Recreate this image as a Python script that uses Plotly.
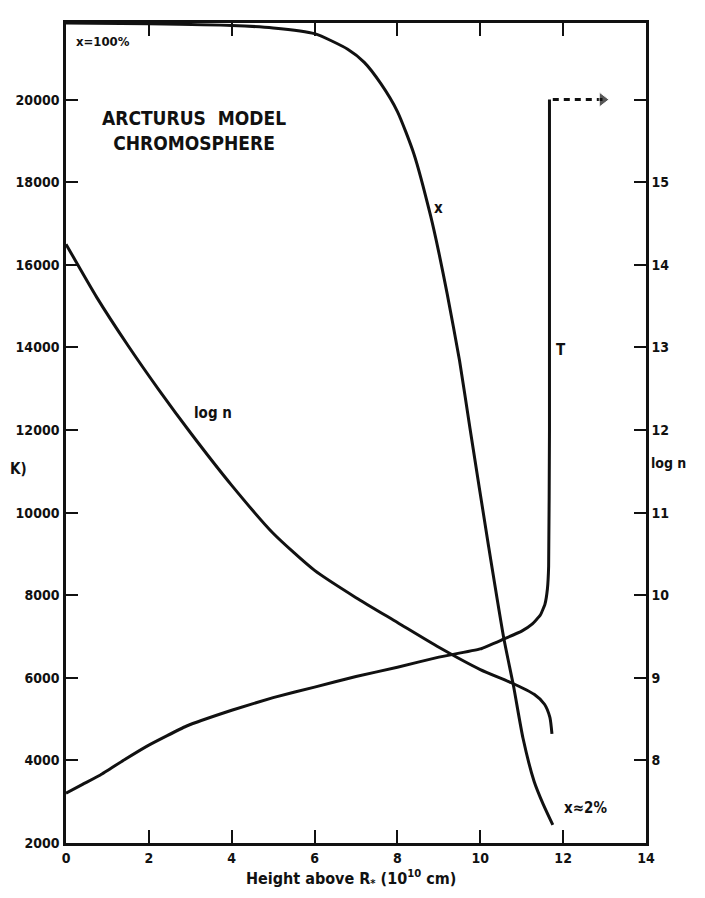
import plotly.graph_objects as go

# ---------------- data ----------------
# Height above R* (1e10 cm)
height_T = [0.0, 0.4, 0.83, 1.4, 2.0, 2.9, 4.0, 5.0, 6.0, 7.0, 8.0, 9.0, 10.0,
            10.57, 11.0, 11.25, 11.45, 11.56, 11.62, 11.65, 11.67, 11.67]
temp_K = [3205, 3420, 3647, 4010, 4370, 4827, 5213, 5520, 5775, 6030, 6257, 6500, 6699,
          6940, 7130, 7300, 7520, 7780, 8150, 8700, 12000, 20000]

height_logn = [0.0, 0.75, 1.5, 2.25, 3.0, 4.0, 5.0, 6.0, 7.0, 8.0, 9.0, 10.0,
               10.75, 11.3, 11.55, 11.68, 11.73]
log_n = [14.25, 13.6, 13.02, 12.48, 11.97, 11.33, 10.75, 10.3, 9.97, 9.67, 9.37, 9.10,
         8.94, 8.80, 8.68, 8.52, 8.32]

height_x = [0.0, 2.0, 4.0, 5.0, 6.0, 6.8, 7.2, 7.6, 8.0, 8.4, 8.8, 9.0, 9.2, 9.5, 9.75,
            10.2, 10.57, 10.8, 11.03, 11.3, 11.52, 11.75]
ion_pct = [100.0, 99.9, 99.7, 99.4, 98.7, 96.8, 95.2, 92.6, 89.2, 84.0, 76.5, 72.0, 67.0,
           58.8, 50.6, 36.2, 24.9, 19.2, 12.8, 7.5, 4.7, 2.2]

arrow_height = [11.75, 12.95]
arrow_T = [20000, 20000]

x_ticks = [0, 2, 4, 6, 8, 10, 12, 14]
T_ticks = [2000, 4000, 6000, 8000, 10000, 12000, 14000, 16000, 18000, 20000]
T_labels = [str(v) for v in T_ticks]
logn_ticks = [8, 9, 10, 11, 12, 13, 14, 15, 16]
logn_labels = ["8", "9", "10", "11", "12", "13", "14", "15", " "]

FONT = "DejaVu Sans Condensed, Liberation Sans Narrow, Liberation Sans, Arial"
BLACK = "#111111"

fig = go.Figure()
fig.add_trace(go.Scatter(x=height_T, y=temp_K, mode="lines",
                         line=dict(color=BLACK, width=3, shape="spline", smoothing=0.35),
                         yaxis="y", showlegend=False))
fig.add_trace(go.Scatter(x=height_logn, y=log_n, mode="lines",
                         line=dict(color=BLACK, width=3, shape="spline", smoothing=0.6),
                         yaxis="y2", showlegend=False))
fig.add_trace(go.Scatter(x=height_x, y=ion_pct, mode="lines",
                         line=dict(color=BLACK, width=3, shape="spline", smoothing=0.6),
                         yaxis="y3", showlegend=False))
fig.add_trace(go.Scatter(x=arrow_height, y=arrow_T, mode="lines+markers",
                         line=dict(color=BLACK, width=3, dash="6px,5px"),
                         marker=dict(symbol=["circle", "triangle-right"], size=[0, 13],
                                     color=BLACK),
                         yaxis="y", showlegend=False))

tickfont = dict(family=FONT, size=14, color=BLACK, weight="bold")

fig.update_layout(
    width=705, height=898,
    margin=dict(l=58, r=67, t=15, b=63, autoexpand=False),
    paper_bgcolor="white", plot_bgcolor="white",
    xaxis=dict(range=[0, 14], tickvals=x_ticks, ticks="inside", ticklen=13, tickwidth=2,
               tickcolor=BLACK, showline=True, linewidth=2.5, linecolor=BLACK,
               mirror="ticks", showgrid=False, zeroline=False, tickfont=tickfont,
               automargin=False),
    yaxis=dict(range=[2000, 21855], tickvals=T_ticks, ticktext=T_labels, ticks="inside",
               ticklen=12, tickwidth=2, tickcolor=BLACK, showline=True, linewidth=2.5,
               linecolor=BLACK, showgrid=False, zeroline=False, tickfont=tickfont,
               ticklabelstandoff=1, automargin=False),
    yaxis2=dict(range=[7, 16.9275], overlaying="y", side="right", tickvals=logn_ticks,
                ticktext=logn_labels, ticks="inside", ticklen=12, tickwidth=2,
                tickcolor=BLACK, showline=True, linewidth=2.5, linecolor=BLACK,
                showgrid=False, zeroline=False, tickfont=tickfont, automargin=False),
    yaxis3=dict(range=[0, 100], overlaying="y", visible=False),
)

ann = dict(showarrow=False, font=dict(family=FONT, size=15, color=BLACK, weight="bold"))
fig.add_annotation(x=3.1, y=19250, xref="x", yref="y",
                   text="ARCTURUS  MODEL<br>CHROMOSPHERE",
                   font=dict(family=FONT, size=19, color=BLACK, weight="bold"),
                   showarrow=False, align="center")
fig.add_annotation(x=0.2, y=21400, xref="x", yref="y", text="x=100%", xanchor="left",
                   font=dict(family=FONT, size=13, color=BLACK, weight="bold"),
                   showarrow=False)
fig.add_annotation(x=9.0, y=17375, xref="x", yref="y", text="x", **ann)
fig.add_annotation(x=11.95, y=13940, xref="x", yref="y", text="T", **ann)
fig.add_annotation(x=3.55, y=12410, xref="x", yref="y", text="log n", **ann)
fig.add_annotation(x=12.55, y=2850, xref="x", yref="y", text="x≈2%", **ann)
fig.add_annotation(x=-0.1, y=11050, xref="paper", yref="y", text="K)", xanchor="left", **ann)
fig.add_annotation(x=1.005, y=11.6, xref="paper", yref="y2", text="log n", xanchor="left",
                   showarrow=False,
                   font=dict(family=FONT, size=14, color=BLACK, weight="bold"))
fig.add_annotation(x=0.491, y=-0.06, xref="paper", yref="paper",
                   text="Height above R<sub>*</sub> (10<sup>10</sup> cm)",
                   font=dict(family=FONT, size=16, color=BLACK, weight="bold"),
                   showarrow=False)

fig.write_html("out.html")
